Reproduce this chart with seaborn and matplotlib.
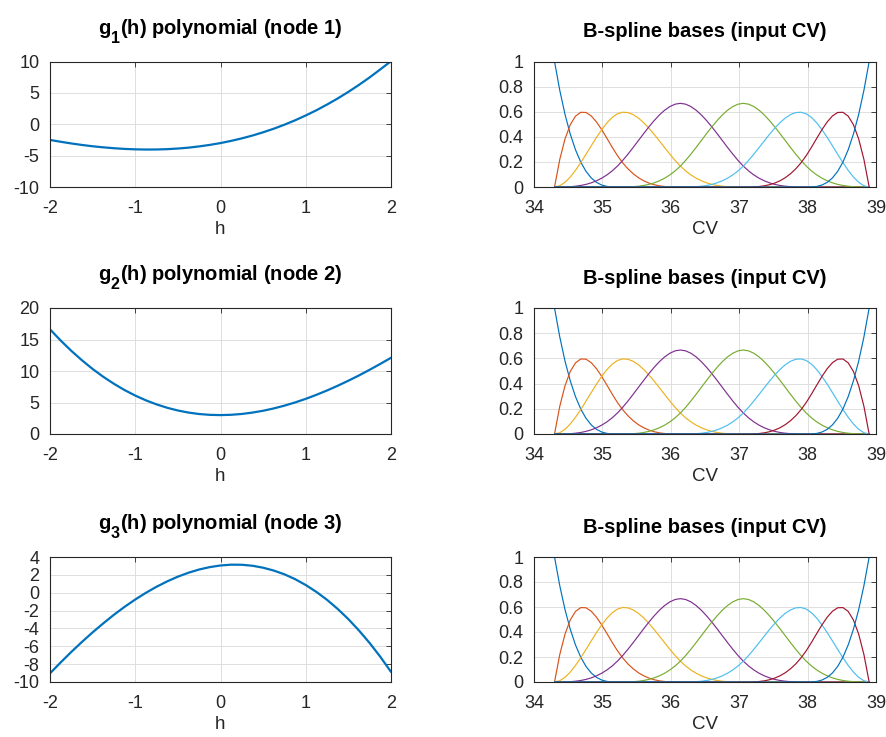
import numpy as np
import pandas as pd
import matplotlib
matplotlib.use("Agg")
import matplotlib.pyplot as plt
import seaborn as sns
from matplotlib.ticker import FormatStrFormatter

# ---------------- data ----------------
h_vals = [-2.0, -1.875, -1.75, -1.625, -1.5, -1.375, -1.25, -1.125, -1.0,
          -0.875, -0.75, -0.625, -0.5, -0.375, -0.25, -0.125, 0.0,
          0.125, 0.25, 0.375, 0.5, 0.625, 0.75, 0.875, 1.0,
          1.125, 1.25, 1.375, 1.5, 1.625, 1.75, 1.875, 2.0]
g1_vals = [-2.5, -2.79, -3.06, -3.3, -3.51, -3.68, -3.82, -3.93, -4.0,
           -4.03, -4.02, -3.97, -3.87, -3.73, -3.53, -3.29, -3.0,
           -2.65, -2.25, -1.8, -1.28, -0.71, -0.07, 0.63, 1.4,
           2.23, 3.14, 4.11, 5.16, 6.28, 7.47, 8.75, 10.05]
g2_vals = [16.62, 14.84, 13.2, 11.7, 10.32, 9.08, 7.97, 6.97, 6.1,
           5.34, 4.7, 4.16, 3.73, 3.4, 3.17, 3.04, 3.0,
           3.05, 3.18, 3.4, 3.69, 4.06, 4.5, 5.01, 5.58,
           6.22, 6.91, 7.66, 8.46, 9.3, 10.2, 11.13, 12.1]
g3_vals = [-9.03, -7.81, -6.63, -5.51, -4.44, -3.43, -2.47, -1.58, -0.76,
           -0.01, 0.67, 1.27, 1.8, 2.24, 2.6, 2.87, 3.05,
           3.14, 3.13, 3.02, 2.8, 2.48, 2.06, 1.52, 0.86,
           0.09, -0.8, -1.82, -2.96, -4.24, -5.64, -7.18, -8.87]

cv_vals = [34.3, 34.3767, 34.4533, 34.53, 34.6067, 34.6833, 34.76, 34.8367,
           34.9133, 34.99, 35.0667, 35.1433, 35.22, 35.2967, 35.3733, 35.45,
           35.5267, 35.6033, 35.68, 35.7567, 35.8333, 35.91, 35.9867, 36.0633,
           36.14, 36.2167, 36.2933, 36.37, 36.4467, 36.5233, 36.6, 36.6767,
           36.7533, 36.83, 36.9067, 36.9833, 37.06, 37.1367, 37.2133, 37.29,
           37.3667, 37.4433, 37.52, 37.5967, 37.6733, 37.75, 37.8267, 37.9033,
           37.98, 38.0567, 38.1333, 38.21, 38.2867, 38.3633, 38.44, 38.5167,
           38.5933, 38.67, 38.7467, 38.8233, 38.9]

basis1 = [1.0, 0.7703, 0.5787, 0.4219, 0.2963, 0.1985, 0.125, 0.0723, 0.037,
          0.0156, 0.0046, 0.0006] + [0.0] * 49
basis2 = [0.0, 0.2198, 0.3831, 0.4961, 0.5648, 0.5953, 0.5938, 0.5661, 0.5185,
          0.457, 0.3877, 0.3167,
          0.25, 0.1926, 0.1447, 0.1055, 0.0741, 0.0496, 0.0313, 0.0181, 0.0093,
          0.0039, 0.0012, 0.0001] + [0.0] * 37
basis3 = [0.0, 0.0099, 0.0374, 0.0794, 0.1327, 0.1941, 0.2604, 0.3285, 0.3951,
          0.457, 0.5112, 0.5544,
          0.5833, 0.5958, 0.593, 0.5768, 0.5494, 0.5127, 0.4688, 0.4196, 0.3673,
          0.3138, 0.2612, 0.2115,
          0.1667, 0.1284, 0.0965, 0.0703, 0.0494, 0.0331, 0.0208, 0.0121,
          0.0062, 0.0026, 0.0008, 0.0001] + [0.0] * 25
basis4 = [0.0, 0.0001, 0.0008, 0.0026, 0.0062, 0.0121, 0.0208, 0.0331, 0.0494,
          0.0703, 0.0965, 0.1284,
          0.1667, 0.2115, 0.2616, 0.3151, 0.3704, 0.4256, 0.4792, 0.5292,
          0.5741, 0.612, 0.6412, 0.66,
          0.6667, 0.66, 0.6412, 0.612, 0.5741, 0.5292, 0.4792, 0.4256, 0.3704,
          0.3151, 0.2616, 0.2115,
          0.1667, 0.1284, 0.0965, 0.0703, 0.0494, 0.0331, 0.0208, 0.0121,
          0.0062, 0.0026, 0.0008, 0.0001] + [0.0] * 13
basis5 = [0.0] * 12 + [
          0.0, 0.0001, 0.0008, 0.0026, 0.0062, 0.0121, 0.0208, 0.0331, 0.0494,
          0.0703, 0.0965, 0.1284,
          0.1667, 0.2115, 0.2616, 0.3151, 0.3704, 0.4256, 0.4792, 0.5292,
          0.5741, 0.612, 0.6412, 0.66,
          0.6667, 0.66, 0.6412, 0.612, 0.5741, 0.5292, 0.4792, 0.4256, 0.3704,
          0.3151, 0.2616, 0.2115,
          0.1667, 0.1284, 0.0965, 0.0703, 0.0494, 0.0331, 0.0208, 0.0121,
          0.0062, 0.0026, 0.0008, 0.0001, 0.0]
basis6 = [0.0] * 25 + [
          0.0001, 0.0008, 0.0026, 0.0062, 0.0121, 0.0208, 0.0331, 0.0494,
          0.0703, 0.0965, 0.1284, 0.1667,
          0.2115, 0.2612, 0.3138, 0.3673, 0.4196, 0.4688, 0.5127, 0.5494,
          0.5768, 0.593, 0.5958, 0.5833,
          0.5544, 0.5112, 0.457, 0.3951, 0.3285, 0.2604, 0.1941, 0.1327,
          0.0794, 0.0374, 0.0099, 0.0]
basis7 = [0.0] * 37 + [
          0.0001, 0.0012, 0.0039, 0.0093, 0.0181, 0.0313, 0.0496, 0.0741,
          0.1055, 0.1447, 0.1926, 0.25,
          0.3167, 0.3877, 0.457, 0.5185, 0.5661, 0.5938, 0.5953, 0.5648,
          0.4961, 0.3831, 0.2198, 0.0]
basis8 = [0.0] * 49 + [0.0006, 0.0046, 0.0156, 0.037, 0.0723, 0.125, 0.1985,
                       0.2963, 0.4219, 0.5787, 0.7703, 1.0]

basis_names = ["B1", "B2", "B3", "B4", "B5", "B6", "B7", "B8"]
basis_colors = ["#0072BD", "#D95319", "#EDB120", "#7E2F8E", "#77AC30",
                "#4DBEEE", "#A2142F", "#0072BD"]

left_titles = [r"$g_1$(h) polynomial (node 1)",
               r"$g_2$(h) polynomial (node 2)",
               r"$g_3$(h) polynomial (node 3)"]
right_title = "B-spline bases (input CV)"
left_yticks = [[-10, -5, 0, 5, 10], [0, 5, 10, 15, 20],
               [-10, -8, -6, -4, -2, 0, 2, 4]]
left_ylims = [(-10, 10), (0, 20), (-10, 4)]
h_ticks = [-2, -1, 0, 1, 2]
cv_ticks = [34, 35, 36, 37, 38, 39]
b_ticks = [0, 0.2, 0.4, 0.6, 0.8, 1]

# ---------------- style ----------------
sns.set_style("white")
plt.rcParams["font.family"] = ["Liberation Sans", "DejaVu Sans"]
plt.rcParams["axes.unicode_minus"] = False
plt.rcParams["mathtext.default"] = "regular"

# MATLAB-like subscripts: a bit larger and lower than matplotlib's default
try:
    import matplotlib._mathtext as _mt
    _mt.SHRINK_FACTOR = 0.8
    _mt.FontConstantsBase.sub1 = 0.85
except Exception:
    pass

W, H = 887, 737
fig = plt.figure(figsize=(W / 100, H / 100), dpi=100)

def frac(x0, top, x1, bottom):
    return [x0 / W, 1 - bottom / H, (x1 - x0) / W, (bottom - top) / H]

rows = [(61.5, 187), (308, 434), (557, 682)]
left_x = (50, 391)
right_x = (534, 876)

dark = "#262626"
TICK_FS = 13
LABEL_FS = 13.5
TITLE_FS = 14.5

def style_axes(ax):
    ax.grid(True, color="#dedede", linewidth=0.7)
    ax.set_axisbelow(True)
    for s in ax.spines.values():
        s.set_color(dark)
        s.set_linewidth(0.8)
    ax.tick_params(direction="in", top=True, right=True, length=3.5,
                   width=0.6, colors=dark, labelsize=TICK_FS, pad=7.5,
                   labelcolor=dark)
    ax.tick_params(axis="x", pad=9.5)

series = [g1_vals, g2_vals, g3_vals]
basis_all = [basis1, basis2, basis3, basis4, basis5, basis6, basis7, basis8]
long_rows = []
for name, vals in zip(basis_names, basis_all):
    for x, v in zip(cv_vals, vals):
        long_rows.append((x, v, name))
df_b = pd.DataFrame(long_rows, columns=["CV", "value", "basis"])

for i, (top, bottom) in enumerate(rows):
    # left: polynomial
    ax = fig.add_axes(frac(left_x[0], top, left_x[1], bottom))
    df = pd.DataFrame({"h": h_vals, "g": series[i]})
    sns.lineplot(data=df, x="h", y="g", ax=ax, color="#0072BD",
                 linewidth=1.6)
    ax.set_xlim(-2, 2)
    ax.set_ylim(*left_ylims[i])
    ax.set_xticks(h_ticks)
    ax.set_yticks(left_yticks[i])
    style_axes(ax)
    ax.set_xlabel("h", fontsize=LABEL_FS, color=dark, labelpad=2.5)
    ax.set_ylabel("")
    ax.set_title(left_titles[i], fontsize=TITLE_FS, fontweight="bold",
                 color="black", pad=19.5)

    # right: B-spline bases
    ax = fig.add_axes(frac(right_x[0], top, right_x[1], bottom))
    sns.lineplot(data=df_b, x="CV", y="value", hue="basis",
                 palette=basis_colors, ax=ax, linewidth=0.85, legend=False)
    ax.set_xlim(34, 39)
    ax.set_ylim(0, 1)
    ax.set_xticks(cv_ticks)
    ax.set_yticks(b_ticks)
    ax.yaxis.set_major_formatter(FormatStrFormatter("%g"))
    style_axes(ax)
    ax.set_xlabel("CV", fontsize=LABEL_FS, color=dark, labelpad=2.5)
    ax.set_ylabel("")
    ax.set_title(right_title, fontsize=TITLE_FS, fontweight="bold",
                 color="black", pad=17.3)

fig.savefig("out.png", dpi=100)
